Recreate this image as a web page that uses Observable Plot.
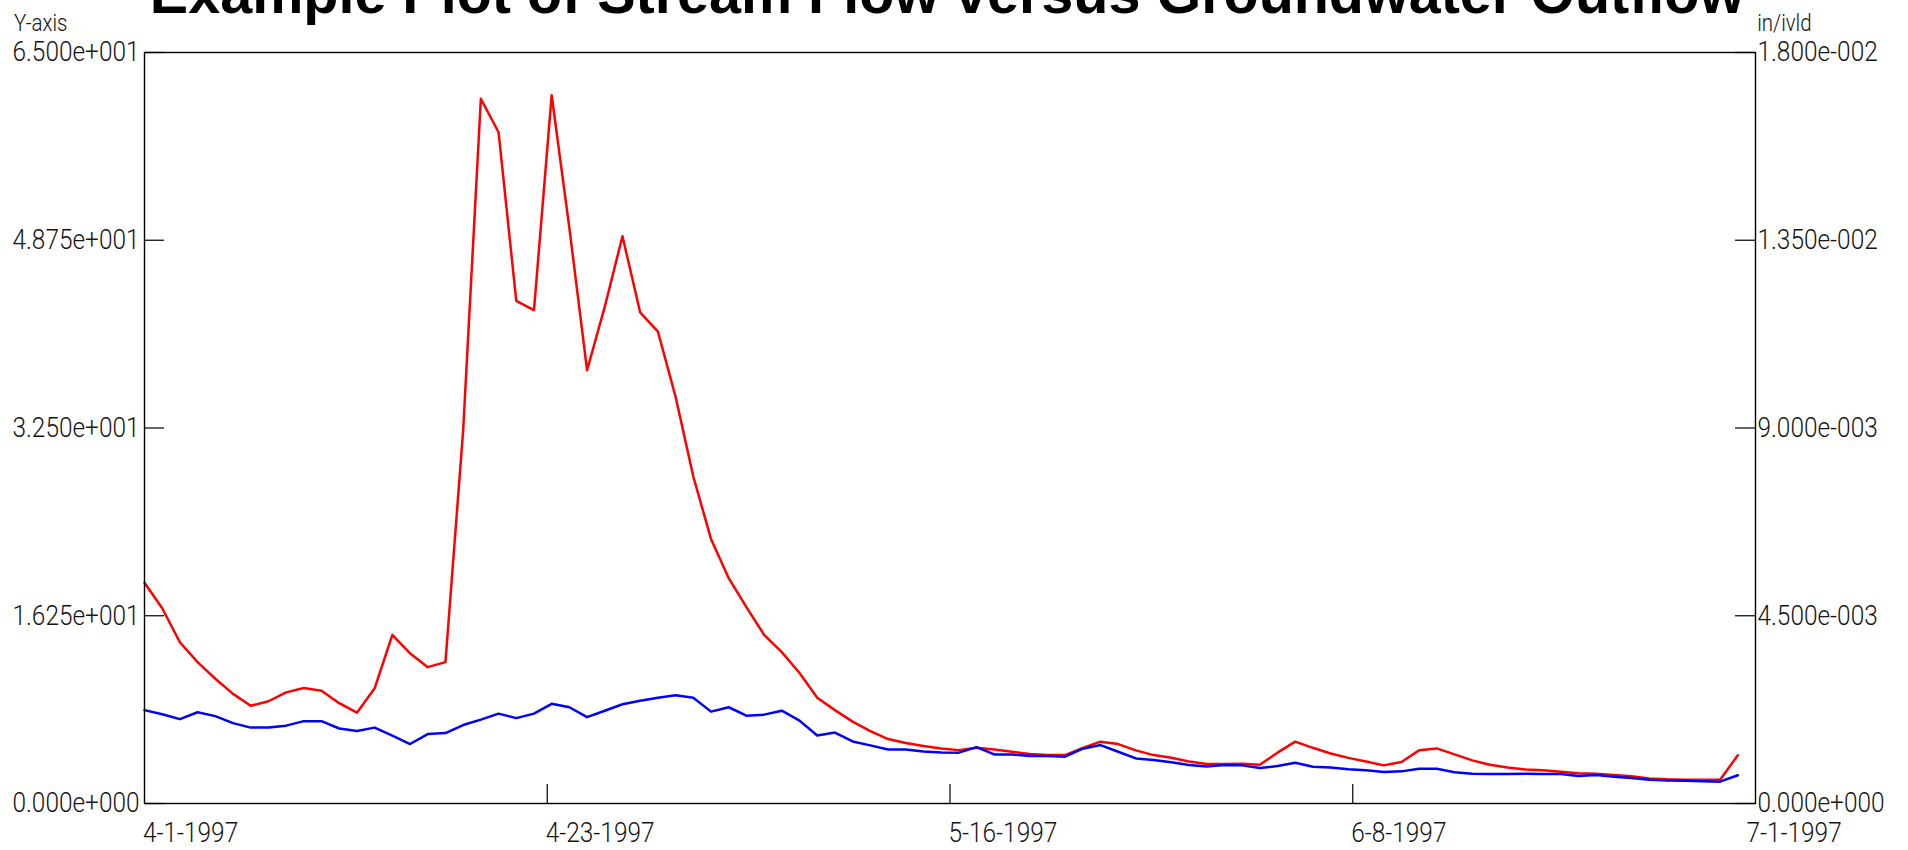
<!DOCTYPE html>
<html>
<head>
<meta charset="utf-8">
<script src="https://cdn.jsdelivr.net/npm/d3@7"></script>
<script src="https://cdn.jsdelivr.net/npm/@observablehq/plot@0.6"></script>
<style>
  html, body { margin: 0; padding: 0; background: #fff; overflow: hidden; }
  #wrap { position: relative; width: 1908px; height: 850px; }
  #title {
    position: absolute; left: 144px; width: 1606px; top: -35.2px;
    text-align: center; white-space: nowrap;
    font-family: "Liberation Sans", Arial, sans-serif; font-weight: bold;
    font-size: 57.5px; line-height: 1; color: #000;
  }
  #chart { position: absolute; left: 0; top: 0; }
</style>
</head>
<body>
<div id="wrap">
  <div id="chart"></div>
  <div id="title"></div>
</div>
<script>
// ---------------- data ----------------
const titleText = "Example Plot of Stream Flow versus Groundwater Outflow";
const leftAxisLabel = "Y-axis";
const rightAxisLabel = "in/ivld";
const startDate = "1997-04-01";

// Stream flow (left axis), daily values from 4-1-1997 to 6-30-1997
const streamFlow = [
  19.1, 16.9, 13.96, 12.24, 10.8, 9.49, 8.46, 8.85, 9.62, 10.0,
  9.75, 8.68, 7.86, 9.97, 14.6, 13.0, 11.8, 12.24, 32.3, 61.0,
  58.1, 43.5, 42.7, 61.3, 49.8, 37.5, 43.0, 49.1, 42.5, 40.85,
  35.2, 28.3, 22.9, 19.5, 17.0, 14.6, 13.1, 11.3, 9.15, 8.08,
  7.09, 6.27, 5.58, 5.24, 4.98, 4.76, 4.62, 4.82, 4.68, 4.48,
  4.28, 4.19, 4.19, 4.82, 5.35, 5.14, 4.60, 4.19, 3.96, 3.64,
  3.41, 3.41, 3.44, 3.36, 4.4, 5.35, 4.82, 4.33, 3.95, 3.64,
  3.30, 3.59, 4.60, 4.77, 4.25, 3.73, 3.36, 3.12, 2.95, 2.87,
  2.75, 2.61, 2.58, 2.46, 2.35, 2.17, 2.09, 2.06, 2.06, 2.06,
  4.17
];

// Groundwater outflow (right axis, in/ivld)
const groundwater = [
  0.002238, 0.002141, 0.002022, 0.002188, 0.002094, 0.001927, 0.001819, 0.001819, 0.001866, 0.001974,
  0.001974, 0.001797, 0.001736, 0.001819, 0.001628, 0.001426, 0.001664, 0.001689, 0.001880, 0.002010,
  0.002154, 0.002046, 0.002154, 0.002390, 0.002307, 0.002069, 0.002224, 0.002379, 0.002462, 0.002534,
  0.002592, 0.002534, 0.002202, 0.002307, 0.002105, 0.002130, 0.002224, 0.001986, 0.001628, 0.001700,
  0.001487, 0.001393, 0.001296, 0.001296, 0.001249, 0.001221, 0.001218, 0.001351, 0.001177, 0.001177,
  0.001138, 0.001138, 0.001122, 0.001313, 0.001401, 0.001241, 0.001080, 0.001041, 0.000986, 0.000922,
  0.000889, 0.000922, 0.000914, 0.000850, 0.000897, 0.000978, 0.000881, 0.000864, 0.000822, 0.000795,
  0.000756, 0.000770, 0.000834, 0.000834, 0.000748, 0.000714, 0.000706, 0.000706, 0.000714, 0.000706,
  0.000706, 0.000659, 0.000681, 0.000642, 0.000609, 0.000570, 0.000554, 0.000546, 0.000532, 0.000523,
  0.000676
];

const leftTicks = [0, 16.25, 32.5, 48.75, 65];
const rightTicks = [0, 0.0045, 0.009, 0.0135, 0.018];
const xTickDates = ["1997-04-01T00:00Z", "1997-04-23T18:00Z", "1997-05-16T12:00Z", "1997-06-08T06:00Z", "1997-07-01T00:00Z"];
const xTickLabels = ["4-1-1997", "4-23-1997", "5-16-1997", "6-8-1997", "7-1-1997"];

// ---------------- chart ----------------
const W = 1908, H = 850;
const mL = 144, mR = 153, mT = 52, mB = 47;
const pw = W - mL - mR, ph = H - mT - mB;
const leftMax = leftTicks[leftTicks.length - 1];
const rightMax = rightTicks[rightTicks.length - 1];
const k = leftMax / rightMax; // right-axis units -> left-axis units

function sci(v) {
  const [m, e] = v.toExponential(3).split("e");
  const n = +e;
  return m + "e" + (n < 0 ? "-" : "+") + String(Math.abs(n)).padStart(3, "0");
}

const t0 = new Date(startDate + "T00:00Z");
const rows = streamFlow.map((v, i) => ({date: d3.utcDay.offset(t0, i), flow: v, gw: groundwater[i]}));
const xt = xTickDates.map((s, i) => ({date: new Date(s), label: xTickLabels[i]}));

const labelFont = "Roboto, 'Liberation Sans', sans-serif";
const ink = "#141414";

const chart = Plot.plot({
  width: W, height: H,
  marginLeft: mL, marginRight: mR, marginTop: mT, marginBottom: mB,
  style: {fontFamily: labelFont, fontSize: "28px", fontWeight: 300, background: "white", overflow: "visible"},
  x: {type: "utc", domain: [t0, xt[xt.length - 1].date], axis: null},
  y: {domain: [0, leftMax], axis: null},
  marks: [
    Plot.line(rows, {x: "date", y: "flow", stroke: "#ff0000", strokeWidth: 2.5}),
    Plot.line(rows, {x: "date", y: d => d.gw * k, stroke: "#0000ff", strokeWidth: 2.5}),
    Plot.tickY(leftTicks, {y: d => d, stroke: ink, strokeWidth: 1.3, insetRight: pw - 20}),
    Plot.tickY(rightTicks, {y: d => d * k, stroke: ink, strokeWidth: 1.3, insetLeft: pw - 20}),
    Plot.tickX(xt.slice(1, -1), {x: "date", stroke: ink, strokeWidth: 1.3, insetTop: ph - 19}),
    Plot.frame({stroke: "#000", strokeWidth: 1.4}),
    Plot.text(leftTicks, {y: d => d, text: d => sci(d), frameAnchor: "left", textAnchor: "end", dx: -5, fill: ink}),
    Plot.text(rightTicks, {y: d => d * k, text: d => sci(d), frameAnchor: "right", textAnchor: "start", dx: 2, fill: ink}),
    Plot.text(xt.slice(0, -1), {x: "date", text: "label", frameAnchor: "bottom", textAnchor: "start", lineAnchor: "bottom", dx: -1.5, dy: 38, fill: ink}),
    Plot.text(xt.slice(-1), {x: "date", text: "label", frameAnchor: "bottom", textAnchor: "start", lineAnchor: "bottom", dx: -9, dy: 38, fill: ink}),
    Plot.text([leftAxisLabel], {text: d => d, frameAnchor: "top-left", textAnchor: "start", lineAnchor: "bottom", dx: -130.6, dy: -22, fontSize: 23.5, fill: ink}),
    Plot.text([rightAxisLabel], {text: d => d, frameAnchor: "top-right", textAnchor: "start", lineAnchor: "bottom", dx: 1.7, dy: -22, fontSize: 23.5, fill: ink})
  ]
});

document.getElementById("chart").append(chart);
document.getElementById("title").textContent = titleText;

// condense the label glyphs to match the narrow face of the original
const texts = Array.from(chart.querySelectorAll("text"));
let ratio = 0.858;
const refText = texts.find(t => t.textContent === sci(leftMax));
if (refText) {
  const w = refText.getComputedTextLength();
  if (w > 0) ratio = 127 / w;
}
texts.forEach(t => {
  const w = t.getComputedTextLength();
  if (w > 0) {
    t.setAttribute("textLength", (w * ratio).toFixed(1));
    t.setAttribute("lengthAdjust", "spacingAndGlyphs");
  }
});
</script>
</body>
</html>
